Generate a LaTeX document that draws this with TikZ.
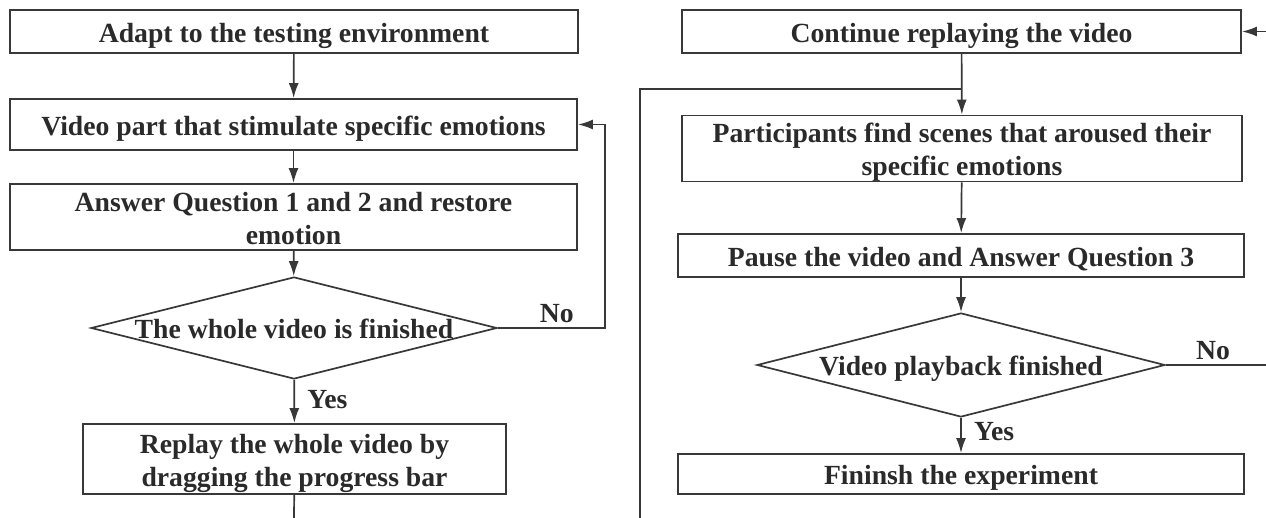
\documentclass[tikz,border=0pt]{standalone}
\usepackage{fontspec}
\setmainfont{Liberation Serif}
\usetikzlibrary{arrows.meta,shapes.geometric}
\definecolor{Ink}{HTML}{2A2A2A}
\definecolor{Frame}{HTML}{383838}
\newcommand{\boxtext}[1]{\raisebox{-4pt}[\height][\depth]{\begin{tabular}{@{}c@{}}#1\end{tabular}}}

\begin{document}
\begin{tikzpicture}[x=1pt,y=-1pt,
  every node/.style={font=\bfseries\fontsize{27.7}{33}\selectfont,text=Ink},
  stepbox/.style={draw=Frame,line width=1.9pt,inner sep=0pt},
  decision/.style={diamond,draw=Frame,line width=1.7pt,inner sep=0pt},
  flow/.style={draw=Frame,line width=1.7pt,-{Latex[length=15pt,width=10pt]}},
  link/.style={draw=Frame,line width=1.7pt}]
\fill[white] (0,0) rectangle (1266,518);
\useasboundingbox (0,0) rectangle (1266,518);
% left column
\node[stepbox,minimum width=568,minimum height=43] (adapt) at (294,31.5) {\boxtext{Adapt to the testing environment}};
\node[stepbox,minimum width=567,minimum height=51] (stim) at (293.5,124.5) {\boxtext{Video part that stimulate specific emotions}};
\node[stepbox,minimum width=567,minimum height=62] (answer) at (293.5,217) {\boxtext{Answer Question 1 and 2 and restore\\emotion}};
\node[decision,minimum width=406,minimum height=102] (whole) at (294,328) {\makebox[0pt]{\boxtext{The whole video is finished}}};
\node[stepbox,minimum width=423,minimum height=70] (replay) at (294.5,459) {\boxtext{Replay the whole video by\\dragging the progress bar}};
\coordinate (outA) at (294,518);
\draw[flow] (adapt) -- (stim);
\draw[flow] (stim) -- (answer);
\draw[flow] (answer) -- (whole);
\draw[flow] (whole) -- (replay) node[pos=0.45,right=9pt] (yesA) {Yes};
\draw[flow] (whole.east) -- ++(107,0) node[pos=0.55,above=1pt] (noA) {No} |- (stim.east);
\draw[link] (replay) -- (outA);
% right column
\node[stepbox,minimum width=559,minimum height=43] (cont) at (961.5,31.5) {\boxtext{Continue replaying the video}};
\node[stepbox,minimum width=560,minimum height=65] (find) at (962,148.5) {\boxtext{Participants find scenes that aroused their\\specific emotions}};
\node[stepbox,minimum width=566,minimum height=43] (pause) at (961,255.5) {\boxtext{Pause the video and Answer Question 3}};
\node[decision,minimum width=408,minimum height=104] (playback) at (961,365) {\makebox[0pt]{\boxtext{Video playback finished}}};
\node[stepbox,minimum width=566,minimum height=40] (finish) at (961,474) {\boxtext{Fininsh the experiment}};
\coordinate (inB) at (1266,31.5);
\coordinate (inC) at (640,518);
\coordinate (join) at (962,89);
\coordinate (outB) at (1266,365);
\draw[flow] (inB) -- (cont);
\draw[flow] (cont) -- (find);
\draw[link] (inC) |- (join);
\draw[flow] (find) -- (pause);
\draw[flow] (pause) -- (playback);
\draw[flow] (playback) -- (finish) node[pos=0.4,right=9pt] (yesB) {Yes};
\draw[link] (playback.east) -- (outB) node[pos=0.47,above=1pt] (noB) {No};
\end{tikzpicture}
\end{document}
